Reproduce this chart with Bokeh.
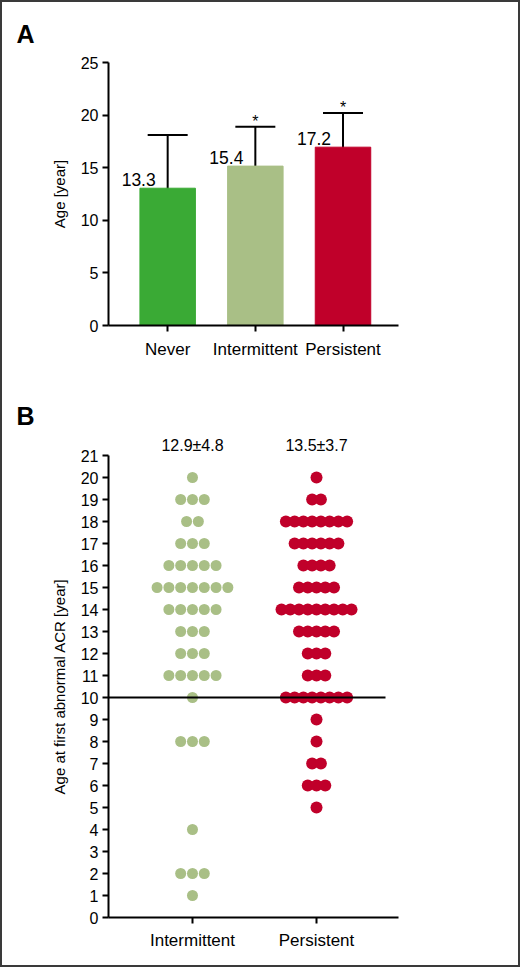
from bokeh.plotting import figure
from bokeh.models import (ColumnDataSource, Whisker, TeeHead, FixedTicker, Range1d,
                          LinearAxis)
from bokeh.layouts import column
from bokeh.embed import file_html
from bokeh.resources import INLINE
from bokeh.core.properties import value

FONT = "Liberation Sans"

# ---------------- Panel A data ----------------
a_categories = ["Never", "Intermittent", "Persistent"]
a_bar_heights = [13.05, 15.15, 16.95]
a_means = [13.3, 15.4, 17.2]
a_sd = [4.8, 3.5, 3.0]
a_signif = ["", "*", "*"]
a_colors = ["#3aaa35", "#a9bf86", "#c0002a"]
a_yticks = [0, 5, 10, 15, 20, 25]

# ---------------- Panel B data ----------------
b_categories = ["Intermittent", "Persistent"]
b_ages = list(range(0, 21))
b_counts_intermittent = [0, 1, 3, 0, 1, 0, 0, 0, 3, 0, 1, 5, 3, 3, 5, 7, 5, 3, 2, 3, 1]
b_counts_persistent = [0, 0, 0, 0, 0, 1, 3, 2, 1, 1, 8, 3, 3, 5, 9, 5, 4, 6, 8, 2, 1]
b_summary = ["12.9\u00b14.8", "13.5\u00b13.7"]
b_colors = ["#a9bf86", "#c0002a"]
b_threshold = 10
b_yticks = list(range(0, 22))


def style_axes(p, tick_font):
    for ax in p.axis:
        ax.axis_line_width = 2
        ax.axis_line_color = "black"
        ax.major_tick_line_width = 2
        ax.major_tick_line_color = "black"
        ax.major_tick_out = 6
        ax.major_tick_in = 0
        ax.minor_tick_line_color = None
        ax.major_label_text_font = FONT
        ax.major_label_text_font_size = tick_font
        ax.major_label_text_color = "black"
        ax.axis_label_text_font = FONT
        ax.axis_label_text_font_style = "normal"
        ax.axis_label_text_color = "black"
    p.xgrid.grid_line_color = None
    p.ygrid.grid_line_color = None
    p.outline_line_color = None


def panel_letter(p, letter, offset, standoff, line_height):
    p.title.text = letter
    p.title.align = "left"
    p.title.offset = offset
    p.title.standoff = standoff
    p.title.text_line_height = line_height
    p.title.text_font = FONT
    p.title.text_font_size = "25px"
    p.title.text_font_style = "bold"
    p.title.text_color = "black"


# ---------------- Panel A ----------------
WA, HA = 516, 390
LA, RA, TA, BA = 106, 18, 60, 67
xa0, xa1 = -0.675, 2.633
pA = figure(width=WA, height=HA, x_range=Range1d(xa0, xa1), y_range=Range1d(0, 25),
            output_backend="svg", toolbar_location=None,
            min_border_left=LA, min_border_right=RA, min_border_top=TA, min_border_bottom=BA)
pxA = (WA - LA - RA) / (xa1 - xa0)

xs = list(range(len(a_categories)))
srcA = ColumnDataSource(dict(
    x=xs, top=a_bar_heights, color=a_colors,
    upper=[m + s for m, s in zip(a_means, a_sd)],
    lower=[m - s for m, s in zip(a_means, a_sd)],
    label=[f"{m:.1f}" for m in a_means], sig=a_signif))
pA.vbar(x="x", top="top", width=75 / pxA, color="color", source=srcA)
pA.add_layout(Whisker(base="x", upper="upper", lower="lower", source=srcA,
                      line_width=2, line_color="black",
                      upper_head=TeeHead(size=40, line_width=2, line_color="black"),
                      lower_head=TeeHead(size=40, line_width=2, line_color="black")))
pA.text(x="x", y="top", text="label", source=srcA, x_offset=-29, y_offset=-9,
        text_align="center", text_baseline="alphabetic",
        text_font=value(FONT), text_font_size="17.5px", text_color="black")
pA.text(x="x", y="upper", text="sig", source=srcA, y_offset=-5,
        text_align="center", text_baseline="alphabetic",
        text_font=value(FONT), text_font_size="16px", text_color="black")

style_axes(pA, "16px")
pA.xaxis.ticker = FixedTicker(ticks=xs)
pA.xaxis.major_label_overrides = {i: c for i, c in enumerate(a_categories)}
pA.xaxis.major_label_text_font_size = "17px"
pA.xaxis.major_label_standoff = 8
pA.yaxis.ticker = FixedTicker(ticks=a_yticks)
pA.yaxis.major_label_standoff = 4
pA.yaxis.axis_label = "Age [year]"
pA.yaxis.axis_label_text_font_size = "15px"
pA.yaxis.axis_label_standoff = 10
panel_letter(pA, "A", -(LA - 14), 30, 0.4)

# ---------------- Panel B ----------------
WB, HB = 516, 573
LB, RB, TB, BB = 106, 120, 63, 48
xb0, xb1 = -0.677, 1.661
pB = figure(width=WB, height=HB, x_range=Range1d(xb0, xb1), y_range=Range1d(0, 21),
            output_backend="svg", toolbar_location=None,
            min_border_left=LB, min_border_right=RB, min_border_top=TB, min_border_bottom=BB)
pxB = (WB - LB - RB) / (xb1 - xb0)
bottom_axis = pB.below[0]
group_ticks = list(range(len(b_categories)))

spacing_px = [11.8, 8.75]
dot_size = [11, 12]
for gi, counts in enumerate([b_counts_intermittent, b_counts_persistent]):
    dx, dy = [], []
    for age, n in zip(b_ages, counts):
        for i in range(n):
            dx.append(gi + (i - (n - 1) / 2) * spacing_px[gi] / pxB)
            dy.append(age)
    pB.scatter(dx, dy, size=dot_size[gi], fill_color=b_colors[gi], line_color=None)

pB.segment(x0=[xb0], y0=[b_threshold], x1=[1 + 69 / pxB], y1=[b_threshold],
           line_width=2, line_color="black")

# summary values above each group, as labels of a hidden top axis
top_axis = LinearAxis(ticker=FixedTicker(ticks=group_ticks),
                      major_label_overrides={i: s for i, s in enumerate(b_summary)})
pB.add_layout(top_axis, "above")

style_axes(pB, "16px")
top_axis.axis_line_color = None
top_axis.major_tick_line_color = None
top_axis.major_tick_out = 0
top_axis.major_label_standoff = 2
top_axis.major_label_text_font_size = "16px"

bottom_axis.ticker = FixedTicker(ticks=group_ticks)
bottom_axis.major_label_overrides = {i: c for i, c in enumerate(b_categories)}
bottom_axis.major_label_text_font_size = "17px"
bottom_axis.major_label_standoff = 7
pB.yaxis.ticker = FixedTicker(ticks=b_yticks)
pB.yaxis.major_label_standoff = 4
pB.yaxis.axis_label = "Age at first abnormal ACR [year]"
pB.yaxis.axis_label_text_font_size = "15px"
pB.yaxis.axis_label_standoff = 10
panel_letter(pB, "B", -(LB - 14), 8, 1.0)

layout = column(pA, pB, styles={"border": "2px solid #3a3a3a"})
open("out.html", "w").write(file_html(layout, INLINE))
